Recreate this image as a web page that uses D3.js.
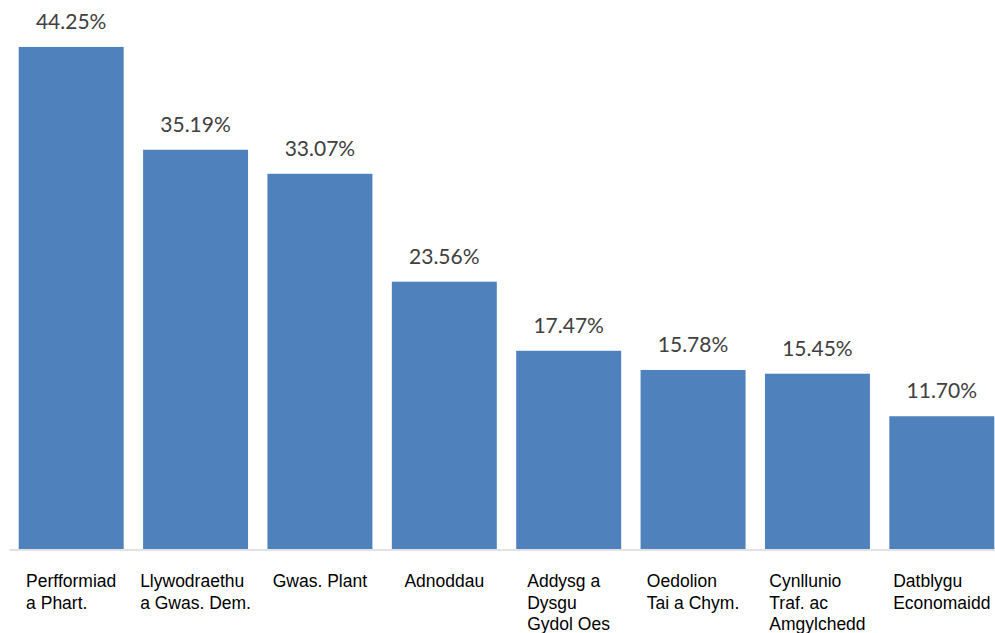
<!DOCTYPE html>
<html>
<head>
<meta charset="utf-8">
<script src="https://cdn.jsdelivr.net/npm/d3@7"></script>
<style>
    body { margin: 0; background: #fff; }
    svg { display: block; font-family: Lato, "Open Sans", sans-serif; }
</style>
</head>
<body>
<div id="chart"></div>
<script>
// Category labels, one entry per line of the label
const categories = [
    ["Perfformiad", "a Phart."],
    ["Llywodraethu", "a Gwas. Dem."],
    ["Gwas. Plant"],
    ["Adnoddau"],
    ["Addysg a", "Dysgu", "Gydol Oes"],
    ["Oedolion", "Tai a Chym."],
    ["Cynllunio", "Traf. ac", "Amgylchedd"],
    ["Datblygu", "Economaidd"]
];

// Percentage per category
const values = [44.25, 35.19, 33.07, 23.56, 17.47, 15.78, 15.45, 11.70];

const width = 995;
const height = 633;

// Plot area
const margin = { left: 9, right: -9, top: 0, baseline: 549 };

const svg = d3.select("#chart").append("svg")
    .attr("width", width)
    .attr("height", height);

const keys = categories.map((c, i) => i);

// x-scale: one band per category
const xScale = d3.scaleBand()
    .domain(keys)
    .range([margin.left, width - margin.right])
    .paddingInner(0.156)
    .paddingOuter(0.078);

// y-scale: Excel style 0..50 axis (not drawn)
const yScale = d3.scaleLinear()
    .domain([0, 50])
    .range([margin.baseline, margin.baseline - 567.3]);

// Bars
svg.append("g")
    .selectAll("rect")
    .data(values)
    .join("rect")
    .attr("x", (d, i) => xScale(i))
    .attr("y", d => yScale(d))
    .attr("width", xScale.bandwidth())
    .attr("height", d => yScale(0) - yScale(d))
    .attr("fill", "#4f81bd");

// Value labels above the bars
svg.append("g")
    .selectAll("text")
    .data(values)
    .join("text")
    .attr("x", (d, i) => xScale(i) + xScale.bandwidth() / 2)
    .attr("y", d => yScale(d) - 18)
    .attr("text-anchor", "middle")
    .attr("fill", "#404040")
    .style("font-size", "21px")
    .text(d => d.toFixed(2) + "%");

// Category axis
const xAxis = d3.axisBottom(xScale).tickSize(0).tickPadding(0).tickFormat("");

const xAxisGroup = svg.append("g")
    .attr("transform", "translate(0," + (margin.baseline + 0.5) + ")")
    .call(xAxis);

xAxisGroup.select(".domain").attr("stroke", "#d9d9d9").attr("stroke-width", 1.3);

// Multi-line labels, lines left aligned, block centred on the bar
xAxisGroup.selectAll(".tick text").each(function (d) {
    const text = d3.select(this)
        .attr("y", 0)
        .attr("dy", null)
        .attr("text-anchor", "start")
        .attr("fill", "#000")
        .style("font-size", "17.5px");
    categories[d].forEach((line, j) => {
        text.append("tspan")
            .attr("x", 0)
            .attr("y", 37.5 + j * 21.5)
            .text(line);
    });
    const w = this.getBBox().width;
    text.attr("transform", "translate(" + (-w / 2) + ",0)");
});
</script>
</body>
</html>
